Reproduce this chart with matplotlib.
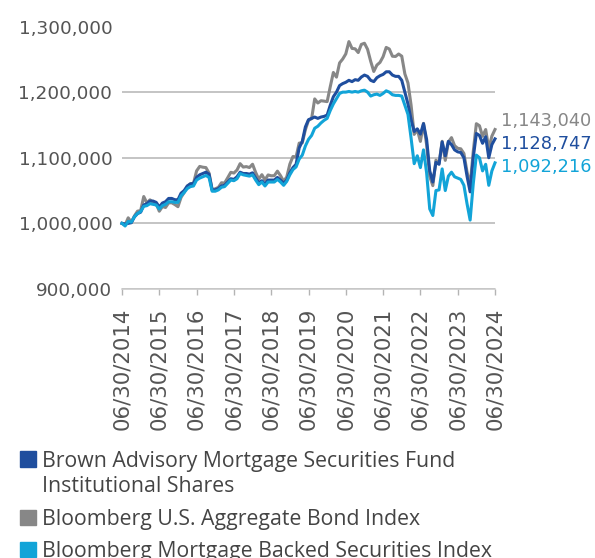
"""Crecimiento de 1,000,000 - fondo vs indices"""

import numpy as np
import matplotlib
matplotlib.use('Agg')
import matplotlib.pyplot as plt
from matplotlib.patches import Rectangle
from matplotlib.ticker import FuncFormatter

# Datos mensuales (06/2014 - 06/2024), en miles
fondo = [1000, 999, 1000, 1001, 1010, 1015, 1017, 1028, 1030, 1034,
         1034, 1032, 1025, 1031, 1033, 1038, 1038, 1036, 1036, 1046,
         1050, 1057, 1060, 1061, 1070, 1074, 1076, 1078, 1075, 1051,
         1051, 1053, 1057, 1058, 1063, 1068, 1067, 1071, 1078, 1076,
         1076, 1075, 1077, 1069, 1062, 1065, 1060, 1066, 1066, 1066,
         1070, 1066, 1061, 1066, 1077, 1085, 1090, 1115, 1125, 1147,
         1158, 1160, 1162, 1160, 1162, 1163, 1165, 1180, 1193, 1200,
         1210, 1213, 1215, 1218, 1216, 1219, 1218, 1223, 1226, 1224,
         1218, 1216, 1222, 1225, 1227, 1231, 1231, 1226, 1224, 1224,
         1218, 1200, 1182, 1158, 1140, 1144, 1136, 1152, 1128, 1080,
         1063, 1093, 1090, 1124, 1103, 1125, 1120, 1112, 1109, 1108,
         1100, 1072, 1048, 1100, 1137, 1134, 1122, 1132, 1100, 1120,
         1128.747]
agregado = [1000.0, 997.5, 1008.5, 1001.6, 1011.4, 1018.6, 1019.5, 1040.9, 1031.1, 1035.9,
            1032.2, 1029.7, 1018.5, 1025.6, 1024.2, 1031.2, 1031.4, 1028.7, 1025.4, 1039.6,
            1047.0, 1056.6, 1060.6, 1060.9, 1080.0, 1086.8, 1085.6, 1085.0, 1076.7, 1051.2,
            1052.7, 1054.8, 1061.9, 1061.4, 1069.5, 1077.8, 1076.7, 1081.3, 1091.0, 1085.8,
            1086.5, 1085.1, 1090.1, 1077.6, 1067.3, 1074.2, 1066.2, 1073.8, 1072.5, 1072.7,
            1079.6, 1072.7, 1064.2, 1070.6, 1090.3, 1101.9, 1101.2, 1122.3, 1122.7, 1142.7,
            1157.1, 1159.6, 1189.7, 1183.4, 1186.9, 1186.3, 1185.5, 1208.3, 1230.0, 1222.8,
            1244.5, 1250.4, 1258.3, 1277.0, 1266.6, 1266.0, 1260.3, 1272.7, 1274.5, 1265.3,
            1247.1, 1231.5, 1241.2, 1245.3, 1254.0, 1268.1, 1265.7, 1254.7, 1254.3, 1258.1,
            1254.8, 1227.8, 1214.0, 1180.3, 1135.6, 1142.9, 1124.9, 1152.4, 1119.8, 1071.4,
            1057.5, 1096.4, 1091.5, 1125.1, 1096.0, 1123.8, 1130.7, 1118.4, 1114.4, 1113.6,
            1106.5, 1078.4, 1058.0, 1109.4, 1151.9, 1148.8, 1132.6, 1143.0, 1114.1, 1133.0,
            1143.04]
mbs = [1000, 996, 1003, 1002, 1010, 1015, 1018, 1026, 1027, 1030,
       1029, 1028, 1022, 1027, 1029, 1033, 1033, 1032, 1032, 1042,
       1047, 1053, 1056, 1057, 1066, 1069, 1071, 1073, 1070, 1049,
       1049, 1051, 1055, 1056, 1061, 1066, 1065, 1068, 1076, 1074,
       1073, 1072, 1074, 1066, 1059, 1063, 1057, 1063, 1063, 1063,
       1067, 1063, 1058, 1064, 1074, 1082, 1086, 1098, 1104, 1118,
       1128, 1134, 1145, 1148, 1153, 1157, 1160, 1172, 1182, 1190,
       1198, 1200, 1200, 1201, 1200, 1201, 1200, 1202, 1203, 1200,
       1194, 1196, 1197, 1195, 1198, 1202, 1200, 1196, 1195, 1195,
       1194, 1180, 1166, 1130, 1091, 1103, 1085, 1112, 1077, 1022,
       1012, 1050, 1051, 1083, 1050, 1072, 1078, 1071, 1069, 1067,
       1058, 1030, 1005, 1060, 1104, 1100, 1080, 1090, 1058, 1080,
       1092.216]
etiquetas_x = ['06/30/2014', '06/30/2015', '06/30/2016', '06/30/2017', '06/30/2018',
               '06/30/2019', '06/30/2020', '06/30/2021', '06/30/2022', '06/30/2023',
               '06/30/2024']
valores_finales = ['1,143,040', '1,128,747', '1,092,216']
nombres = ['Brown Advisory Mortgage Securities Fund', 'Bloomberg U.S. Aggregate Bond Index',
           'Bloomberg Mortgage Backed Securities Index']

c_fondo = '#1f4e9e'
c_agg = '#878787'
c_mbs = '#12a4d8'
c_texto = '#555555'

W, H = 595, 558
fig = plt.figure(figsize=(W / 100, H / 100), dpi=100)
ax = fig.add_axes([122 / W, 1 - 289 / H, (495 - 122) / W, (289 - 26.5) / H])

meses = np.arange(len(fondo))
ax.plot(meses, np.array(agregado) * 1000, color=c_agg, lw=2.2, zorder=3, clip_on=False)
ax.plot(meses, np.array(fondo) * 1000, color=c_fondo, lw=2.2, zorder=4, clip_on=False)
ax.plot(meses, np.array(mbs) * 1000, color=c_mbs, lw=2.2, zorder=5, clip_on=False)

ax.set_xlim(0, 120)
ax.set_ylim(900000, 1300000)
ax.set_yticks(np.arange(900000, 1300001, 100000))
ax.yaxis.set_major_formatter(FuncFormatter(lambda v, p: f'{int(v):,}'))
ax.set_xticks(np.arange(0, 121, 12))
ax.set_xticklabels(etiquetas_x, rotation=90)

ax.grid(axis='y', color='#b4b4b4', lw=1.1)
ax.set_axisbelow(True)
for s in ['left', 'right', 'top']:
    ax.spines[s].set_visible(False)
ax.spines['bottom'].set_color('#c8c8c8')
ax.spines['bottom'].set_linewidth(1.1)
ax.tick_params(axis='y', length=0, pad=7, labelsize=13.3, labelcolor=c_texto)
ax.tick_params(axis='x', length=4.5, width=1, color='#b4b4b4', pad=9,
               labelsize=15.3, labelcolor=c_texto)

# Valores finales
for txt, yy, col in zip(valores_finales, [121.5, 144, 166.5], [c_agg, c_fondo, c_mbs]):
    fig.text(501 / W, 1 - yy / H, txt, color=col, fontsize=12.8, va='center', ha='left')

# Leyenda
colores = [c_fondo, c_agg, c_mbs]
cuadros = [451, 509.5, 541.5]
for y0, col in zip(cuadros, colores):
    fig.patches.append(Rectangle((20 / W, 1 - (y0 + 15.5) / H), 15.5 / W, 15.5 / H,
                                 transform=fig.transFigure, color=col))
fuente = dict(family='Open Sans', fontsize=15.3, color='#444444', va='baseline', ha='left')
fig.text(42 / W, 1 - 466.5 / H, nombres[0], **fuente)
fig.text(42 / W, 1 - 492.5 / H, 'Institutional Shares', **fuente)
fig.text(42 / W, 1 - 525 / H, nombres[1], **fuente)
fig.text(42 / W, 1 - 557 / H, nombres[2], **fuente)

plt.savefig('out.png', dpi=100)
